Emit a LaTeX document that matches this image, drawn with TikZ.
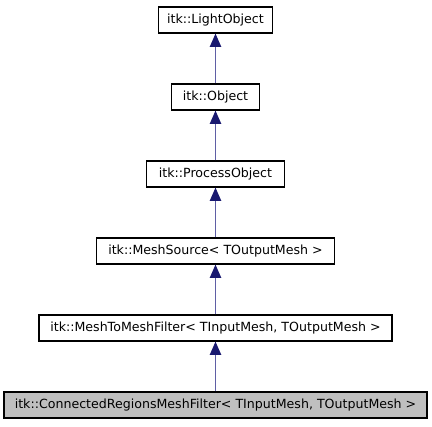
\documentclass[tikz,border=0pt]{standalone}
\usepackage{fontspec}
\setmainfont{DejaVu Sans}
\usetikzlibrary{arrows.meta}
\definecolor{edgeblue}{RGB}{25,25,112}
\definecolor{edgeline}{RGB}{95,95,165}
\definecolor{curgrey}{RGB}{191,191,191}

\tikzset{
  classbox/.style={draw=black, line width=0.9pt, fill=white, minimum height=19.5pt, inner sep=0pt, font=\fontsize{9.45}{11}\selectfont},
  inherit/.style={draw=edgeline, line width=1pt, -{Triangle[length=10pt,width=8.5pt,color=edgeblue]}}
}

\begin{document}
\begin{tikzpicture}[x=0.75pt,y=0.75pt,yscale=-1,xscale=1]
%set diagram size to 432 x 427
\path[use as bounding box] (0,0) rectangle (432,427);

% Class Nodes
\node[classbox, minimum width=85.5pt] (lightobj) at (215.5,20) {itk::LightObject};
\node[classbox, minimum width=66pt] (object) at (215.5,97) {itk::Object};
\node[classbox, minimum width=103.5pt] (procobj) at (215.5,174) {itk::ProcessObject};
\node[classbox, minimum width=178.5pt] (meshsrc) at (215.5,251) {itk::MeshSource< TOutputMesh >};
\node[classbox, minimum width=264.75pt] (meshfilt) at (215.5,328) {itk::MeshToMeshFilter< TInputMesh, TOutputMesh >};
\node[classbox, minimum width=317.25pt, fill=curgrey] (connreg) at (215.5,405) {itk::ConnectedRegionsMeshFilter< TInputMesh, TOutputMesh >};

% Inheritance Arrows
\draw[inherit] (object.north) -- (lightobj.south);
\draw[inherit] (procobj.north) -- (object.south);
\draw[inherit] (meshsrc.north) -- (procobj.south);
\draw[inherit] (meshfilt.north) -- (meshsrc.south);
\draw[inherit] (connreg.north) -- (meshfilt.south);

\end{tikzpicture}
\end{document}
